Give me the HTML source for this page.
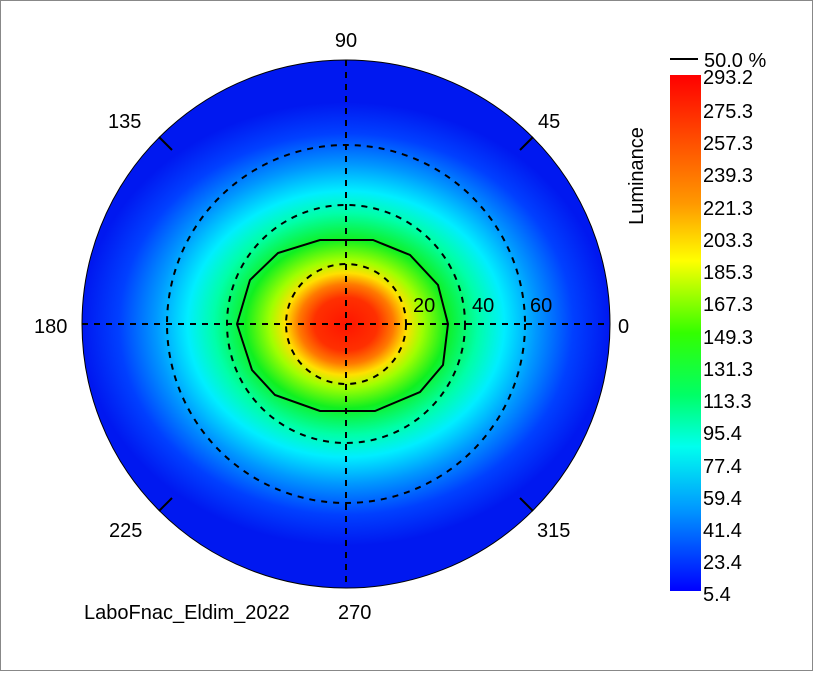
<!DOCTYPE html>
<html><head><style>
body{margin:0;background:#fff;}
svg{display:block;font-family:"Liberation Sans",Arial,sans-serif;}
</style></head><body>
<svg width="817" height="674" viewBox="0 0 817 674">
<defs>
<radialGradient id="g" cx="346" cy="324" r="264" gradientUnits="userSpaceOnUse" gradientTransform="translate(346 324) scale(1 0.84) translate(-346 -324)">
<stop offset="0" stop-color="#ff1400"/>
<stop offset="0.12" stop-color="#ff3000"/>
<stop offset="0.18" stop-color="#ff7a00"/>
<stop offset="0.23" stop-color="#ffe000"/>
<stop offset="0.29" stop-color="#a0ff00"/>
<stop offset="0.38" stop-color="#10f020"/>
<stop offset="0.5" stop-color="#00ffa8"/>
<stop offset="0.6" stop-color="#00eeff"/>
<stop offset="0.72" stop-color="#0098ff"/>
<stop offset="0.86" stop-color="#0040ff"/>
<stop offset="1" stop-color="#0018f0"/>
</radialGradient>
<linearGradient id="cb" x1="0" y1="0" x2="0" y2="1">
<stop offset="0" stop-color="#ff0000"/>
<stop offset="0.25" stop-color="#ff9900"/>
<stop offset="0.36" stop-color="#ffff00"/>
<stop offset="0.5" stop-color="#33ff00"/>
<stop offset="0.62" stop-color="#00ff66"/>
<stop offset="0.72" stop-color="#00ffee"/>
<stop offset="0.84" stop-color="#0099ff"/>
<stop offset="1" stop-color="#0000ff"/>
</linearGradient>
</defs>
<rect x="0.5" y="0.5" width="812" height="670" fill="#fff" stroke="#888"/>
<circle cx="346" cy="324" r="264" fill="url(#g)" stroke="#000" stroke-width="1"/>
<g fill="none" stroke="#000" stroke-width="2" stroke-dasharray="6,6">
<circle cx="346" cy="324" r="60"/>
<circle cx="346" cy="324" r="119"/>
<circle cx="346" cy="324" r="179"/>
<line x1="82" y1="324" x2="610" y2="324"/>
<line x1="346" y1="60" x2="346" y2="588"/>
</g>
<polygon fill="none" stroke="#000" stroke-width="2" points="320,240 373,240 410,255 438,285 448,324 443,365 420,392 375,411 320,411 275,395 252,370 237,324 250,280 278,253"/>
<g stroke="#000" stroke-width="2">
<line x1="159" y1="137" x2="172" y2="150"/><line x1="533" y1="137" x2="520" y2="150"/>
<line x1="159" y1="511" x2="172" y2="498"/><line x1="533" y1="511" x2="520" y2="498"/>
</g>
<g font-size="20" fill="#000">
<text x="346" y="47" text-anchor="middle">90</text>
<text x="108" y="128">135</text>
<text x="538" y="128">45</text>
<text x="34" y="333">180</text>
<text x="618" y="333">0</text>
<text x="109" y="537">225</text>
<text x="537" y="537">315</text>
<text x="413" y="312">20</text>
<text x="472" y="312">40</text>
<text x="530" y="312">60</text>
<text x="84" y="619">LaboFnac_Eldim_2022</text>
<text x="338" y="619">270</text>
</g>
<rect x="670" y="75" width="31" height="516" fill="url(#cb)"/>
<line x1="670" y1="59" x2="698" y2="59" stroke="#000" stroke-width="2"/>
<text x="704" y="67" font-size="20">50.0 %</text>
<text x="643" y="176" font-size="20" transform="rotate(-90 643 176)" text-anchor="middle">Luminance</text>
<g font-size="20" fill="#000">
<text x="703" y="84">293.2</text>
<text x="703" y="118">275.3</text>
<text x="703" y="150">257.3</text>
<text x="703" y="182">239.3</text>
<text x="703" y="215">221.3</text>
<text x="703" y="247">203.3</text>
<text x="703" y="279">185.3</text>
<text x="703" y="311">167.3</text>
<text x="703" y="344">149.3</text>
<text x="703" y="376">131.3</text>
<text x="703" y="408">113.3</text>
<text x="703" y="440">95.4</text>
<text x="703" y="473">77.4</text>
<text x="703" y="505">59.4</text>
<text x="703" y="537">41.4</text>
<text x="703" y="569">23.4</text>
<text x="703" y="601">5.4</text>
</g>
</svg>
</body></html>
